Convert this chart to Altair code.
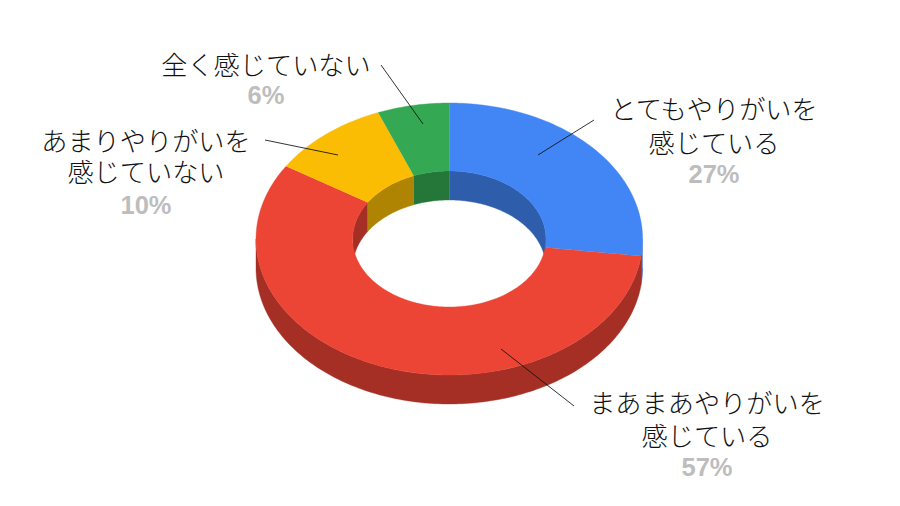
import math
import altair as alt
import pandas as pd

categories = ["とてもやりがいを感じている", "まあまあやりがいを感じている", "あまりやりがいを感じていない", "全く感じていない"]
label_lines = [["とてもやりがいを", "感じている"], ["まあまあやりがいを", "感じている"], ["あまりやりがいを", "感じていない"], ["全く感じていない"]]
values = [27, 57, 10, 6]
percent_text = ["27%", "57%", "10%", "6%"]
top_colors = ["#4285F4", "#EC4535", "#FBBC04", "#34A853"]
side_colors = ["#2E5DAB", "#A52F25", "#B08403", "#257639"]

# layout of the drawing, in page pixels
CX, CY, RX, RY, HOLE, DEPTH = 449.3, 239, 193.3, 136, 0.5, 29
label_x = [714, 707, 146, 266]
label_y = [[111, 144.5], [405, 437.5], [143, 174], [66.5]]
pct_y = [175, 468, 206, 96]
leaders = [(594, 120, 538, 155), (574, 406, 501, 349), (265, 140, 338, 155), (381, 65, 423, 124)]


def pt(deg, frac, drop=0):
    a = math.radians(deg)
    return CX + RX * frac * math.sin(a), CY - RY * frac * math.cos(a) + drop


def arc(a, b, frac, drop=0):
    n = max(2, int(abs(b - a)) + 2)
    return [pt(a + (b - a) * i / (n - 1), frac, drop) for i in range(n)]


top_rows, outer_rows, inner_rows = [], [], []


def add(rows, pid, cat, pts):
    for i, (x, y) in enumerate(pts):
        rows.append({"poly": pid, "cat": cat, "i": i, "x": x, "y": y})


start = 0.0
total = sum(values)
for k, v in enumerate(values):
    end = start + 360.0 * v / total
    add(top_rows, f"t{k}", f"top{k}", arc(start, end, 1) + arc(end, start, HOLE))
    # outer wall: part of the slice facing the viewer (90..270 degrees)
    a, b = max(start, 90), min(end, 270)
    if b > a:
        add(outer_rows, f"o{k}", f"side{k}", arc(a, b, 1) + arc(b, a, 1, DEPTH))
    # inner wall: part of the slice at the back of the hole (270..450 degrees)
    for s, e in [(start, min(end, 90)), (max(start, 270), end)]:
        if e > s:
            add(inner_rows, f"i{k}{s}", f"side{k}", arc(s, e, HOLE) + arc(e, s, HOLE, DEPTH))
    start = end

domain = [f"top{k}" for k in range(4)] + [f"side{k}" for k in range(4)]
colors = top_colors + side_colors
x_scale = alt.Scale(domain=[8, 892], nice=False, zero=False)
y_scale = alt.Scale(domain=[498, 8], nice=False, zero=False)


def polys(rows):
    color_scale = alt.Scale(domain=domain, range=colors)
    return alt.Chart(pd.DataFrame(rows)).mark_line(filled=True, interpolate="linear", strokeWidth=0.4, clip=False).encode(
        x=alt.X("x:Q", scale=x_scale, axis=None),
        y=alt.Y("y:Q", scale=y_scale, axis=None),
        order=alt.Order("i:Q"),
        detail="poly:N",
        fill=alt.Fill("cat:N", scale=color_scale, legend=None),
        stroke=alt.Stroke("cat:N", scale=color_scale, legend=None),
    )


leader_df = pd.DataFrame(leaders, columns=["x", "y", "x2", "y2"])
leader_chart = alt.Chart(leader_df).mark_rule(color="#111111", strokeWidth=1, opacity=0.85).encode(
    x=alt.X("x:Q", scale=x_scale, axis=None), y=alt.Y("y:Q", scale=y_scale, axis=None), x2="x2:Q", y2="y2:Q"
)

text_rows = []
for k, lines in enumerate(label_lines):
    for line, y in zip(lines, label_y[k]):
        text_rows.append({"t": line, "x": label_x[k], "y": y})
pct_rows = [{"t": p, "x": label_x[k], "y": pct_y[k]} for k, p in enumerate(percent_text)]

names = alt.Chart(pd.DataFrame(text_rows)).mark_text(
    font="Noto Sans CJK JP", fontSize=26.2, color="#111111", fontWeight=300, align="center", baseline="middle"
).encode(x=alt.X("x:Q", scale=x_scale, axis=None), y=alt.Y("y:Q", scale=y_scale, axis=None), text="t:N")

pcts = alt.Chart(pd.DataFrame(pct_rows)).mark_text(
    font="Liberation Sans", fontSize=25.5, fontWeight="bold", color="#BDBDBD", align="center", baseline="middle"
).encode(x=alt.X("x:Q", scale=x_scale, axis=None), y=alt.Y("y:Q", scale=y_scale, axis=None), text="t:N")

chart = alt.layer(polys(outer_rows), polys(inner_rows), polys(top_rows), leader_chart, names, pcts).properties(
    width=884, height=490, padding=0, background="white",
    autosize=alt.AutoSizeParams(type="none"),
).configure_view(stroke=None)

chart.save("out.html", embed_options={"renderer": "svg", "actions": False})
